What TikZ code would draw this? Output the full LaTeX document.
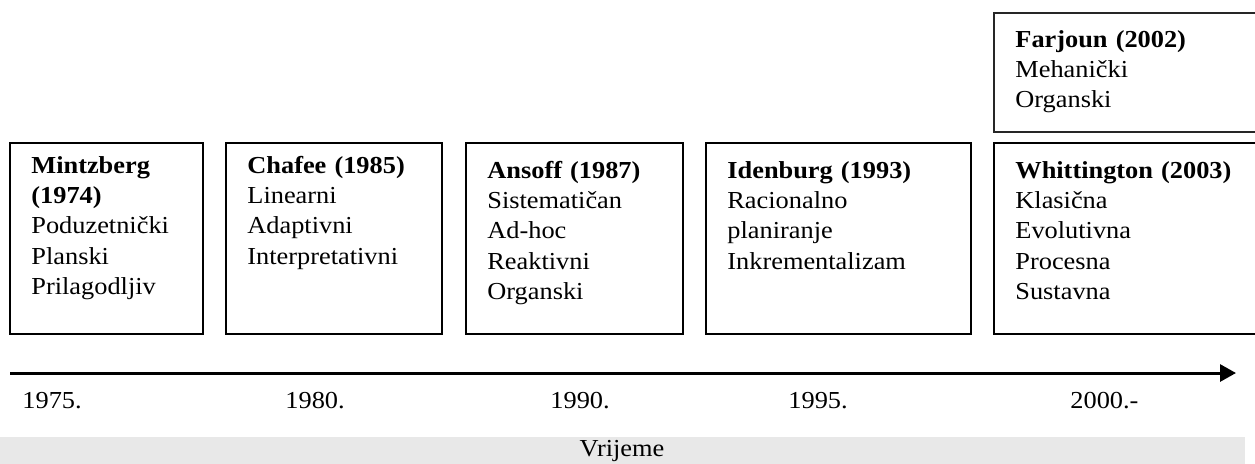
\documentclass[tikz,border=0pt]{standalone}
\usepackage{fontspec}
\setmainfont{Liberation Serif}[FakeStretch=1.08]
\usetikzlibrary{arrows.meta}
\definecolor{bandgray}{HTML}{E8E8E8}
\tikzset{
  boxframe/.style={draw=black, line width=1pt},
  boxtext/.style={anchor=base west, inner sep=0pt, align=left, text width=#1,
    font=\fontsize{12.2}{15.2}\selectfont},
  yearlabel/.style={anchor=base west, inner sep=0pt, font=\fontsize{12.2}{15}\selectfont},
  axisline/.style={line width=1.5pt, -{Triangle[length=8pt,width=8.5pt]}}
}
\begin{document}
\begin{tikzpicture}[x=0.5pt,y=-0.5pt]
\useasboundingbox (0,0) rectangle (1255,463);
\clip (0,0) rectangle (1255,463);
% boxes
\draw[boxframe] (10,143) rectangle (203,334) node[pos=0, inner sep=0] (b1) {};
\draw[boxframe] (226,143) rectangle (442,334) node[pos=0, inner sep=0] (b2) {};
\draw[boxframe] (466,143) rectangle (683,334) node[pos=0, inner sep=0] (b3) {};
\draw[boxframe] (706,143) rectangle (971,334) node[pos=0, inner sep=0] (b4) {};
\draw[boxframe] (994,143) rectangle (1262,334) node[pos=0, inner sep=0] (b5) {};
\draw[boxframe, line width=0.9pt, draw=black!85] (994,13) rectangle (1262,132) node[pos=0, inner sep=0] (bf) {};
% texts
\node[boxtext=85pt] (t1) at (31,173) {\textbf{Mintzberg}\\\textbf{(1974)}\\Poduzetnički\\Planski\\Prilagodljiv};
\node[boxtext=95pt] (t2) at (247,173) {\textbf{Chafee (1985)}\\Linearni\\Adaptivni\\Interpretativni};
\node[boxtext=95pt] (t3) at (487,178) {\textbf{Ansoff (1987)}\\Sistematičan\\Ad-hoc\\Reaktivni\\Organski};
\node[boxtext=120pt] (t4) at (727,178) {\textbf{Idenburg (1993)}\\Racionalno\\planiranje\\Inkrementalizam};
\node[boxtext=120pt] (t5) at (1015,178) {\textbf{Whittington (2003)}\\Klasična\\Evolutivna\\Procesna\\Sustavna};
\node[boxtext=120pt] (tf) at (1015,47) {\textbf{Farjoun (2002)}\\Mehanički\\Organski};
% time axis
\coordinate (a0) at (10,373);
\coordinate (a1) at (1236,373);
\draw[axisline] (a0) -- (a1);
\node[yearlabel] (y1) at (22,408) {1975.};
\node[yearlabel] (y2) at (285,408) {1980.};
\node[yearlabel] (y3) at (550,408) {1990.};
\node[yearlabel] (y4) at (788,408) {1995.};
\node[yearlabel] (y5) at (1070,408) {2000.-};
% band
\fill[bandgray] (0,437) rectangle (1245,470);
\node[anchor=base, inner sep=0pt, font=\fontsize{12.2}{15}\selectfont] (band) at (622,456) {Vrijeme};
\end{tikzpicture}
\end{document}
